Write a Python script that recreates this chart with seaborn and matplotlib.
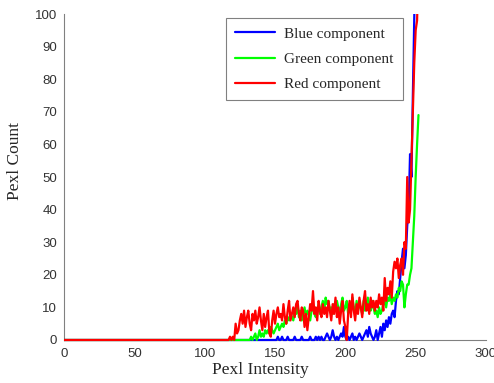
import numpy as np
import pandas as pd
import matplotlib
matplotlib.use("Agg")
import matplotlib.pyplot as plt
import seaborn as sns
from matplotlib.lines import Line2D
from matplotlib.transforms import Bbox, TransformedBbox

# ---------------- data ----------------
start_intensity = 115
end_intensity = 252

red_vals = [0, 0, 0, 1, 0, 1, 0,
            5, 2, 3, 6, 8, 5, 9, 4, 7, 9, 5, 3, 8, 6, 9, 5, 7, 10, 6, 3, 8, 4, 7, 9, 2, 1, 6, 9, 5, 8, 10, 7,
            8, 6, 11, 7, 5, 9, 12, 6, 8, 10, 7, 11, 12, 8, 6, 10, 9, 4, 8, 3, 7, 11, 9, 15, 8, 10, 6, 12, 9, 7, 11, 8,
            10, 7, 12, 9, 6, 11, 8, 13, 7, 10, 5, 9, 12, 6, 4, 0, 8, 12, 7, 14, 9, 6, 11, 8, 13, 10, 7, 12, 15, 9, 11, 8, 13, 10, 12,
            9, 12, 10, 14, 11, 13, 9, 19, 12, 16, 14, 18, 13, 21, 24, 22, 25, 19, 23, 25, 20, 30, 28, 50, 36, 40, 55, 70, 85, 95, 98, 115]

green_vals = [0] * 17 + \
             [0, 1, 0, 1, 2, 0, 1, 3, 1, 2, 1, 3, 2, 3, 2, 4, 3, 2, 3, 4, 5, 3,
              4, 5, 4, 6, 5, 7, 6, 8, 7, 6, 9, 8, 11, 7, 9, 6, 8, 10, 7, 9, 8, 6, 9, 10, 8, 7, 9, 11, 8, 10, 12, 9,
              13, 11, 12, 9, 10, 8, 11, 9, 12, 10, 8, 11, 13, 9, 10, 12, 8, 11, 9, 13, 10, 8, 12, 9, 11, 10, 8, 12, 9, 11, 13, 10, 9, 12, 10,
              8, 9, 7, 10, 8, 9, 11, 12, 10, 13, 12, 14, 11, 13, 12, 14, 13, 16, 15, 18, 17, 10, 14, 17, 17, 20, 22, 30, 38, 50, 60, 69]

blue_vals = [0] * 36 + \
            [0, 1, 0, 0, 1, 0, 0, 0, 1, 0, 0, 0, 0, 1, 0, 0, 0, 0, 1, 0, 0, 0, 0, 0, 1, 0, 0, 0,
             1, 0, 1, 0, 1, 0, 0, 1, 2, 1, 0, 1, 3, 1, 0, 1, 0, 1, 2, 1, 4, 1, 0, 1, 0, 1, 2, 0, 1, 0, 1, 2, 1, 0, 1, 2, 3, 1, 4, 2, 1, 0,
             1, 3, 0, 2, 4, 1, 5, 3, 6, 4, 7, 5, 8, 9, 7, 12, 15, 14, 19, 24, 28, 22, 26, 35, 40, 57, 50, 75, 98, 125, 150, 170]

labels = ["Blue component", "Green component", "Red component"]
colors = ["#0000ff", "#00ff00", "#ff0000"]

x_ticks = [0, 50, 100, 150, 200, 250, 300]
y_ticks = [0, 10, 20, 30, 40, 50, 60, 70, 80, 90, 100]

# ---------------- build table ----------------
intensity = np.arange(0, end_intensity + 1)
lead = [0] * start_intensity
series = {
    labels[0]: lead + blue_vals,
    labels[1]: lead + green_vals,
    labels[2]: lead + red_vals,
}
frames = []
for name in labels:
    vals = series[name]
    frames.append(pd.DataFrame({"Intensity": intensity[:len(vals)],
                                "Count": vals,
                                "Component": name}))
df = pd.concat(frames, ignore_index=True)

# ---------------- plot ----------------
sns.set_style("white")
plt.rcParams["font.family"] = ["Liberation Sans", "DejaVu Sans"]

fig = plt.figure(figsize=(4.94, 3.83), dpi=100)
ax = fig.add_axes([0.1296, 0.1123, 0.8542, 0.8511])

sns.lineplot(data=df, x="Intensity", y="Count", hue="Component",
             hue_order=labels, palette=colors, linewidth=1.6, ax=ax,
             legend=False)

ax.set_xlim(0, 300)
ax.set_ylim(0, 100)
ax.set_xticks(x_ticks)
ax.set_yticks(y_ticks)

# let the zero baseline show its full width, but keep the top clipped
clip_box = TransformedBbox(Bbox([[0, -0.05], [1, 1]]), ax.transAxes)
for ln in ax.get_lines():
    ln.set_clip_box(clip_box)

grey = "#808080"
for side in ["top", "right"]:
    ax.spines[side].set_visible(False)
for side in ["left", "bottom"]:
    ax.spines[side].set_color(grey)
    ax.spines[side].set_linewidth(0.8)
    ax.spines[side].set_zorder(0.5)
ax.tick_params(direction="in", length=4, width=0.8, color=grey,
               labelsize=9.5, labelcolor="#333333")
ax.tick_params(axis="x", pad=6)
ax.tick_params(axis="y", pad=5)

ax.set_xlabel("Pexl Intensity", family="Liberation Serif", fontsize=12.5,
              color="#262626")
ax.set_ylabel("Pexl Count", family="Liberation Serif", fontsize=12.5,
              color="#262626")
ax.xaxis.set_label_coords(0.466, -0.066)
ax.yaxis.set_label_coords(-0.098, 0.55)

handles = [Line2D([0], [0], color=c, lw=1.6) for c in colors]
leg = ax.legend(handles, labels, loc="upper right",
                bbox_to_anchor=(0.803, 0.988), borderaxespad=0,
                prop={"family": "Liberation Serif", "size": 11},
                fancybox=False, framealpha=1, edgecolor=grey,
                handlelength=2.6, handletextpad=0.6, labelspacing=0.75,
                borderpad=0.6)
leg.get_frame().set_linewidth(0.8)

fig.savefig("out.png", dpi=100)
